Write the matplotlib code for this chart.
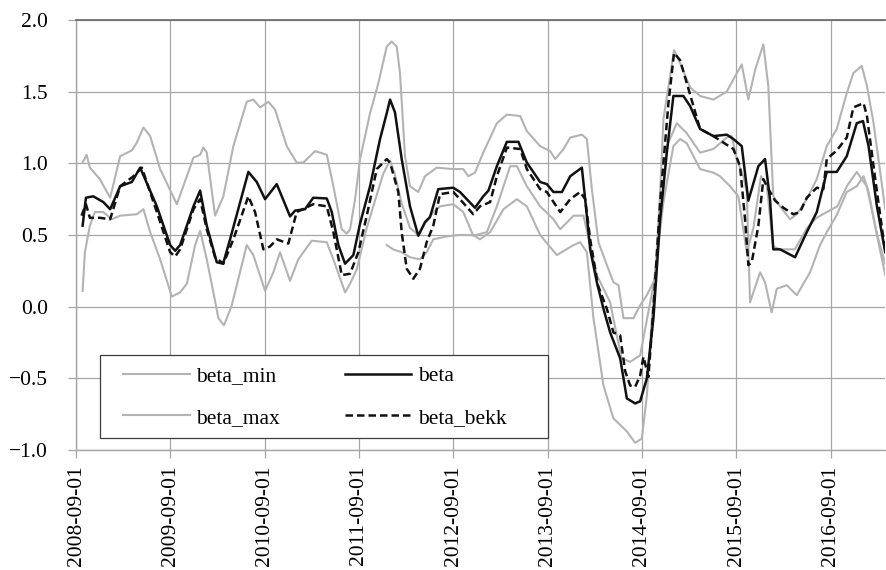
import datetime as dt

import matplotlib
matplotlib.use("Agg")
import matplotlib.pyplot as plt
import matplotlib.dates as mdates
from matplotlib.patches import Rectangle
from matplotlib.ticker import FuncFormatter, MultipleLocator

plt.rcParams['font.family'] = ['Liberation Serif', 'DejaVu Serif']

# time positions are decimal years
beta_t = [2008.738, 2008.773, 2008.850, 2008.957, 2009.028, 2009.134, 2009.258, 2009.346, 2009.523,
          2009.664, 2009.717, 2009.770, 2009.911, 2009.982, 2010.053, 2010.159, 2010.226, 2010.300,
          2010.494, 2010.583, 2010.671, 2010.795, 2010.936, 2010.989, 2011.095, 2011.183, 2011.326,
          2011.379, 2011.449, 2011.520, 2011.608, 2011.679, 2011.785, 2011.891, 2011.962, 2011.997,
          2012.050, 2012.121, 2012.209, 2012.297, 2012.368, 2012.421, 2012.509, 2012.668, 2012.739,
          2012.898, 2012.986, 2013.039, 2013.128, 2013.234, 2013.357, 2013.446, 2013.587, 2013.658,
          2013.728, 2013.818, 2013.906, 2014.030, 2014.065, 2014.100, 2014.118, 2014.189, 2014.259,
          2014.330, 2014.436, 2014.507, 2014.595, 2014.648, 2014.719, 2014.789, 2014.860, 2014.931,
          2015.001, 2015.107, 2015.178, 2015.284, 2015.425, 2015.567, 2015.637, 2015.726, 2015.796,
          2015.902, 2015.973, 2016.026, 2016.061, 2016.133, 2016.292, 2016.416, 2016.522, 2016.628,
          2016.734, 2016.840, 2016.946, 2017.010, 2017.069, 2017.158, 2017.246]
beta = [0.565, 0.76, 0.77, 0.73, 0.68, 0.84, 0.87, 0.97, 0.70,
        0.43, 0.39, 0.43, 0.70, 0.81, 0.565, 0.31, 0.30, 0.47,
        0.94, 0.87, 0.75, 0.855, 0.63, 0.67, 0.68, 0.76, 0.755,
        0.66, 0.43, 0.30, 0.36, 0.58, 0.84, 1.17, 1.35, 1.445,
        1.355, 1.03, 0.70, 0.495, 0.59, 0.625, 0.82, 0.83, 0.80,
        0.69, 0.77, 0.81, 0.98, 1.15, 1.15, 1.005, 0.87, 0.855,
        0.80, 0.80, 0.91, 0.97, 0.75, 0.52, 0.40, 0.17, -0.015,
        -0.18, -0.36, -0.64, -0.675, -0.66, -0.50, -0.08, 0.61, 1.075,
        1.47, 1.47, 1.40, 1.24, 1.19, 1.20, 1.17, 1.12, 0.74,
        0.98, 1.03, 0.75, 0.40, 0.40, 0.345, 0.52, 0.66, 0.94,
        0.94, 1.05, 1.28, 1.295, 1.12, 0.70, 0.38]

bekk_t = [2008.727, 2008.773, 2008.815, 2008.921, 2009.028, 2009.134, 2009.275, 2009.364, 2009.523,
          2009.664, 2009.717, 2009.770, 2009.911, 2009.982, 2010.053, 2010.141, 2010.229, 2010.335,
          2010.494, 2010.565, 2010.653, 2010.724, 2010.795, 2010.918, 2011.007, 2011.183, 2011.326,
          2011.396, 2011.485, 2011.573, 2011.661, 2011.750, 2011.856, 2011.962, 2011.997, 2012.085,
          2012.121, 2012.174, 2012.244, 2012.315, 2012.386, 2012.456, 2012.527, 2012.668, 2012.739,
          2012.880, 2012.951, 2013.057, 2013.128, 2013.234, 2013.376, 2013.446, 2013.587, 2013.658,
          2013.800, 2013.906, 2014.012, 2014.065, 2014.118, 2014.200, 2014.295, 2014.365, 2014.436,
          2014.489, 2014.542, 2014.595, 2014.648, 2014.683, 2014.736, 2014.789, 2014.860, 2014.948,
          2015.008, 2015.072, 2015.143, 2015.284, 2015.425, 2015.637, 2015.708, 2015.761, 2015.796,
          2015.832, 2015.902, 2015.955, 2015.992, 2016.080, 2016.168, 2016.274, 2016.345, 2016.416,
          2016.522, 2016.592, 2016.628, 2016.734, 2016.840, 2016.910, 2017.016, 2017.052, 2017.140,
          2017.246]
beta_bekk = [0.635, 0.715, 0.62, 0.62, 0.61, 0.84, 0.91, 0.97, 0.66,
             0.38, 0.35, 0.40, 0.68, 0.75, 0.54, 0.345, 0.30, 0.47,
             0.77, 0.66, 0.40, 0.42, 0.47, 0.44, 0.66, 0.715, 0.70,
             0.52, 0.22, 0.23, 0.38, 0.635, 0.96, 1.03, 1.005, 0.80,
             0.52, 0.265, 0.195, 0.265, 0.45, 0.565, 0.785, 0.80, 0.75,
             0.645, 0.70, 0.73, 0.91, 1.11, 1.10, 0.96, 0.82, 0.80,
             0.66, 0.75, 0.80, 0.75, 0.47, 0.15, -0.015, -0.18, -0.20,
             -0.45, -0.55, -0.56, -0.48, -0.35, -0.49, -0.01, 0.73, 1.42,
             1.77, 1.72, 1.56, 1.24, 1.19, 1.10, 0.98, 0.61, 0.29,
             0.31, 0.565, 0.89, 0.84, 0.74, 0.69, 0.645, 0.66, 0.76,
             0.83, 0.82, 1.03, 1.09, 1.18, 1.39, 1.42, 1.33, 0.89,
             0.38]

max_t = [2008.738, 2008.780, 2008.815, 2008.921, 2009.028, 2009.134, 2009.258, 2009.311, 2009.381,
         2009.452, 2009.558, 2009.735, 2009.841, 2009.911, 2009.982, 2010.017, 2010.053, 2010.141,
         2010.229, 2010.335, 2010.477, 2010.547, 2010.618, 2010.706, 2010.777, 2010.901, 2011.007,
         2011.077, 2011.201, 2011.326, 2011.396, 2011.485, 2011.538, 2011.573, 2011.626, 2011.679,
         2011.785, 2011.873, 2011.962, 2012.015, 2012.068, 2012.103, 2012.156, 2012.209, 2012.297,
         2012.368, 2012.492, 2012.668, 2012.774, 2012.827, 2012.898, 2012.986, 2013.128, 2013.234,
         2013.376, 2013.446, 2013.587, 2013.694, 2013.747, 2013.835, 2013.906, 2014.030, 2014.083,
         2014.136, 2014.206, 2014.295, 2014.365, 2014.418, 2014.471, 2014.577, 2014.648, 2014.719,
         2014.807, 2014.860, 2014.895, 2014.966, 2015.008, 2015.072, 2015.178, 2015.284, 2015.425,
         2015.567, 2015.637, 2015.726, 2015.796, 2015.867, 2015.955, 2016.008, 2016.061, 2016.133,
         2016.239, 2016.310, 2016.416, 2016.522, 2016.628, 2016.734, 2016.840, 2016.910, 2016.999,
         2017.052, 2017.122, 2017.246]
beta_max = [1.005, 1.06, 0.97, 0.89, 0.76, 1.05, 1.09, 1.145, 1.25,
            1.19, 0.96, 0.715, 0.91, 1.04, 1.06, 1.11, 1.075, 0.635,
            0.77, 1.12, 1.43, 1.445, 1.39, 1.43, 1.375, 1.12, 1.005,
            1.005, 1.085, 1.06, 0.84, 0.54, 0.51, 0.54, 0.75, 1.03,
            1.35, 1.56, 1.815, 1.85, 1.815, 1.63, 1.05, 0.84, 0.80,
            0.91, 0.97, 0.96, 0.96, 0.91, 0.935, 1.075, 1.28, 1.34,
            1.33, 1.225, 1.12, 1.085, 1.03, 1.10, 1.18, 1.20, 1.17,
            0.82, 0.45, 0.29, 0.17, 0.15, -0.08, -0.08, 0.01, 0.08,
            0.195, 0.80, 1.31, 1.61, 1.79, 1.70, 1.53, 1.47, 1.445,
            1.50, 1.585, 1.69, 1.445, 1.65, 1.83, 1.54, 0.77, 0.70,
            0.61, 0.645, 0.75, 0.89, 1.12, 1.24, 1.49, 1.63, 1.68,
            1.54, 1.28, 0.68]

min_t = [2008.738, 2008.762, 2008.815, 2008.868, 2008.957, 2009.046, 2009.134, 2009.311, 2009.381,
         2009.452, 2009.558, 2009.682, 2009.770, 2009.841, 2009.929, 2009.982, 2010.053, 2010.123,
         2010.176, 2010.236, 2010.318, 2010.371, 2010.477, 2010.547, 2010.671, 2010.759, 2010.830,
         2010.936, 2011.024, 2011.166, 2011.326, 2011.396, 2011.520, 2011.573, 2011.644, 2011.750,
         2011.856, 2011.926, 2011.997, 2012.050, 2012.121, 2012.209, 2012.297, 2012.368, 2012.456,
         2012.527, 2012.668, 2012.774, 2012.880, 2013.022, 2013.128, 2013.269, 2013.340, 2013.446,
         2013.587, 2013.728, 2013.800, 2013.941, 2014.047, 2014.189, 2014.330, 2014.400, 2014.450,
         2014.542, 2014.648, 2014.789, 2014.895, 2015.001, 2015.072, 2015.143, 2015.284, 2015.425,
         2015.496, 2015.602, 2015.690, 2015.779, 2015.850, 2015.930, 2015.990, 2016.060, 2016.133,
         2016.290, 2016.420, 2016.520, 2016.628, 2016.740, 2016.840, 2016.946, 2017.050, 2017.160,
         2017.246]
beta_min = [0.11, 0.38, 0.565, 0.66, 0.66, 0.61, 0.635, 0.645, 0.68,
            0.52, 0.33, 0.07, 0.10, 0.16, 0.43, 0.53, 0.33, 0.10,
            -0.08, -0.13, 0.01, 0.15, 0.43, 0.36, 0.11, 0.24, 0.38,
            0.18, 0.33, 0.46, 0.45, 0.33, 0.10, 0.16, 0.26, 0.55,
            0.78, 0.93, 1.02, 0.92, 0.72, 0.55, 0.50, 0.58, 0.66,
            0.70, 0.715, 0.66, 0.495, 0.52, 0.70, 0.98, 0.98, 0.84,
            0.70, 0.61, 0.54, 0.635, 0.635, 0.22, 0.03, -0.20, -0.36,
            -0.385, -0.34, 0.15, 0.73, 1.12, 1.17, 1.14, 0.96, 0.935,
            0.91, 0.84, 0.77, 0.38, 0.55, 0.91, 0.85, 0.42, 0.40,
            0.40, 0.55, 0.62, 0.66, 0.70, 0.84, 0.94, 0.84, 0.50,
            0.30]

# third grey line, starts late 2011, not in the legend
extra_t = [2011.962, 2012.029, 2012.121, 2012.209, 2012.315, 2012.386, 2012.456, 2012.598, 2012.720,
           2012.880, 2012.951, 2013.057, 2013.198, 2013.340, 2013.446, 2013.587, 2013.764, 2013.941,
           2014.012, 2014.083, 2014.153, 2014.259, 2014.365, 2014.507, 2014.595, 2014.666, 2014.719,
           2014.772, 2014.931, 2015.037, 2015.143, 2015.284, 2015.425, 2015.567, 2015.620, 2015.673,
           2015.743, 2015.779, 2015.814, 2015.920, 2015.973, 2016.044, 2016.098, 2016.204, 2016.310,
           2016.451, 2016.557, 2016.628, 2016.734, 2016.840, 2016.946, 2017.016, 2017.070, 2017.158,
           2017.246]
beta_extra = [0.43, 0.40, 0.38, 0.345, 0.33, 0.38, 0.47, 0.49, 0.50,
              0.50, 0.47, 0.52, 0.68, 0.75, 0.70, 0.50, 0.36, 0.43,
              0.45, 0.38, -0.08, -0.55, -0.78, -0.87, -0.95, -0.92, -0.62,
              -0.08, 1.12, 1.28, 1.21, 1.075, 1.10, 1.18, 1.19, 1.03,
              0.91, 0.80, 0.03, 0.24, 0.17, -0.04, 0.125, 0.15, 0.08,
              0.24, 0.43, 0.52, 0.64, 0.80, 0.84, 0.91, 0.80, 0.50,
              0.22]

tick_dates = ['2008-09-01', '2009-09-01', '2010-09-01', '2011-09-01', '2012-09-01',
              '2013-09-01', '2014-09-01', '2015-09-01', '2016-09-01']


def to_date(y):
    year = int(y)
    return dt.datetime(year, 1, 1) + dt.timedelta(days=(y - year) * 365.25)


def dates(ts):
    return [to_date(t) for t in ts]


GREY = '#b3b3b3'
GRID = '#a6a6a6'
FS = 15.5

fig = plt.figure(figsize=(8.86, 5.70), dpi=100)
ax = fig.add_axes([0.0858, 0.2105, 0.9131, 0.7544])

ax.plot(dates(min_t), beta_min, color=GREY, lw=1.5, label='beta_min')
ax.plot(dates(max_t), beta_max, color=GREY, lw=1.5, label='beta_max')
ax.plot(dates(extra_t), beta_extra, color=GREY, lw=1.5, label='_nolegend_')
ax.plot(dates(beta_t), beta, color='#111111', lw=1.8, label='beta')
ax.plot(dates(bekk_t), beta_bekk, color='#111111', lw=1.8, ls=(0, (3, 1.6)), label='beta_bekk')

ax.set_ylim(-1.0, 2.0)
ax.yaxis.set_major_locator(MultipleLocator(0.5))
ax.yaxis.set_major_formatter(FuncFormatter(lambda v, p: f"{v:.1f}".replace('-', '\u2212')))

ticks = [dt.datetime.strptime(d, '%Y-%m-%d') for d in tick_dates]
ax.set_xticks(ticks)
ax.xaxis.set_major_formatter(mdates.DateFormatter('%Y-%m-%d'))
ax.set_xlim(ticks[0], dt.datetime(2017, 3, 31))
plt.setp(ax.get_xticklabels(), rotation=90, ha='center', va='top')

ax.grid(True, color=GRID, lw=0.9)
ax.set_axisbelow(True)
ax.tick_params(axis='both', labelsize=FS, color=GRID, length=6, width=0.9)
ax.tick_params(axis='y', pad=14)
ax.tick_params(axis='x', pad=5)

for s in ['left', 'bottom']:
    ax.spines[s].set_color(GRID)
    ax.spines[s].set_linewidth(1.0)
ax.spines['top'].set_color('#6e6e6e')
ax.spines['top'].set_linewidth(1.3)
ax.spines['right'].set_visible(False)

# legend frame
ax.add_patch(Rectangle((0.0297, 0.0279), 0.5537, 0.193, transform=ax.transAxes,
                       facecolor='white', edgecolor='#3c3c3c', lw=0.9, zorder=4.5))
ax.legend(loc='upper left', bbox_to_anchor=(0.0581, 0.1953), ncol=2, frameon=False,
          fontsize=FS, handlelength=3.1, handletextpad=0.3, columnspacing=3.0,
          borderpad=0, borderaxespad=0, labelspacing=1.0)

fig.savefig('out.png', dpi=100)
